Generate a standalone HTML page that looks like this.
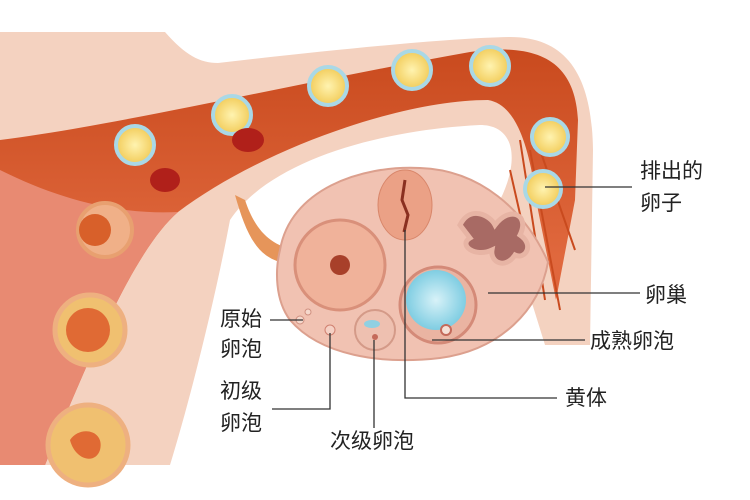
<!DOCTYPE html>
<html><head><meta charset="utf-8"><style>
html,body{margin:0;padding:0;background:#fff;}
svg{display:block}
text{font-family:"Liberation Sans","Noto Sans CJK SC",sans-serif;font-size:21px;fill:#222}
</style></head><body>
<svg width="750" height="500" viewBox="0 0 750 500" xmlns="http://www.w3.org/2000/svg">
<defs>
<linearGradient id="tube" x1="0" y1="0" x2="0" y2="1">
<stop offset="0" stop-color="#c94a1e"/><stop offset="0.5" stop-color="#e0683d"/><stop offset="1" stop-color="#d9593a"/>
</linearGradient>
<radialGradient id="egg"><stop offset="0" stop-color="#fff3b0"/><stop offset="1" stop-color="#f2cc5a"/></radialGradient>
<radialGradient id="blue"><stop offset="0" stop-color="#d8f2f8"/><stop offset="1" stop-color="#7fcde2"/></radialGradient>
</defs>
<!-- beige body -->
<path d="M0,32 L165,32 C185,55 200,63 218,63 C330,50 450,38 510,37 C570,37 592,80 593,150 L590,345 L545,345 L500,200 C520,160 515,125 480,125 C380,130 270,160 230,220 C215,300 190,400 170,465 L0,465 Z" fill="#f4d2c0"/>
<!-- uterus + tube -->
<path d="M0,140 C120,125 300,82 470,52 C540,42 575,62 578,120 L575,200 L556,300 L538,210 C530,150 518,105 488,100 C400,100 260,150 178,212 C140,245 100,330 45,465 L0,465 Z" fill="url(#tube)"/>
<path d="M0,170 C60,200 120,215 178,212 C140,245 100,330 45,465 L0,465 Z" fill="#e88a72"/>
<!-- fimbriae lines -->
<g stroke="#c94a1e" stroke-width="2" fill="none">
<path d="M520,140 L545,300"/><path d="M530,150 L560,310"/><path d="M540,150 L575,250"/><path d="M510,170 L535,280"/>
</g>
<!-- ovary ligament -->
<path d="M235,195 C245,230 255,255 280,262 L300,270 L295,250 C270,245 255,230 245,200 Z" fill="#e6955a"/>
<!-- ovary -->
<path d="M280,250 C290,190 360,165 420,168 C480,170 525,210 548,262 C540,310 500,350 440,358 C380,365 320,355 290,320 C275,300 275,270 280,250 Z" fill="#f1c2b2" stroke="#dca08e" stroke-width="2"/>
<!-- corpus luteum -->
<ellipse cx="405" cy="205" rx="27" ry="35" fill="#eba186" stroke="#d8866a"/>
<path d="M405,180 L402,200 L408,215 L404,232" stroke="#8a3020" stroke-width="3" fill="none"/>
<!-- dominant follicle -->
<circle cx="340" cy="265" r="45" fill="#f0b29a" stroke="#d9907a" stroke-width="3"/>
<circle cx="340" cy="265" r="10" fill="#a8402a"/>
<!-- mushroom -->
<path d="M460,225 C470,205 490,215 495,225 C510,205 530,215 520,235 C535,245 525,260 515,255 C505,270 490,262 492,250 C475,258 458,245 470,238 Z" fill="#a86a64" stroke="#e7b4a4" stroke-width="5"/>
<!-- mature follicle -->
<circle cx="438" cy="305" r="38" fill="#eab4a2" stroke="#d48a78" stroke-width="3"/>
<circle cx="436" cy="300" r="30" fill="url(#blue)"/>
<circle cx="446" cy="330" r="5" fill="#f6e0d6" stroke="#c46a5a" stroke-width="2"/>
<!-- secondary -->
<circle cx="375" cy="330" r="20" fill="#eec0b0" stroke="#d49a88" stroke-width="2"/>
<ellipse cx="372" cy="324" rx="8" ry="4" fill="#8fd0e2"/>
<circle cx="375" cy="337" r="3" fill="#c46a5a"/>
<!-- primordial / primary -->
<circle cx="300" cy="320" r="4" fill="#f5d8cc" stroke="#d09080"/>
<circle cx="308" cy="312" r="3" fill="#f5d8cc" stroke="#d09080"/>
<circle cx="330" cy="330" r="5" fill="#f5d0c4" stroke="#d08070"/>
<!-- uterus follicles -->
<circle cx="105" cy="230" r="27" fill="#f0b088" stroke="#e8a070" stroke-width="4"/>
<circle cx="95" cy="230" r="16" fill="#d8602a"/>
<circle cx="90" cy="330" r="35" fill="#f0c070" stroke="#eeb080" stroke-width="5"/>
<circle cx="88" cy="330" r="22" fill="#e06a34"/>
<circle cx="88" cy="445" r="40" fill="#f0c070" stroke="#eeb080" stroke-width="5"/>
<path d="M70,440 C80,425 105,430 100,450 C95,465 75,460 70,440 Z" fill="#e06a34"/>
<!-- eggs -->
<g stroke="#a9d8e6" stroke-width="4">
<circle cx="135" cy="145" r="19" fill="url(#egg)"/>
<circle cx="232" cy="115" r="19" fill="url(#egg)"/>
<circle cx="328" cy="86" r="19" fill="url(#egg)"/>
<circle cx="412" cy="70" r="19" fill="url(#egg)"/>
<circle cx="490" cy="66" r="19" fill="url(#egg)"/>
<circle cx="550" cy="137" r="18" fill="url(#egg)"/>
<circle cx="543" cy="189" r="18" fill="url(#egg)"/>
</g>
<ellipse cx="165" cy="180" rx="15" ry="12" fill="#b0201a"/>
<ellipse cx="248" cy="140" rx="16" ry="12" fill="#b0201a"/>
<!-- leader lines -->
<g stroke="#333" stroke-width="1.3" fill="none">
<path d="M545,187 H632"/>
<path d="M488,293 H640"/>
<path d="M432,340 H585"/>
<path d="M405,230 V398 H557"/>
<path d="M374,340 V428"/>
<path d="M330,333 V409 H272"/>
<path d="M303,320 H270"/>
</g>
<text x="640" y="178">排出的</text>
<text x="640" y="210">卵子</text>
<text x="645" y="302">卵巢</text>
<text x="590" y="348">成熟卵泡</text>
<text x="565" y="405">黄体</text>
<text x="330" y="448">次级卵泡</text>
<text x="220" y="326">原始</text>
<text x="220" y="356">卵泡</text>
<text x="220" y="398">初级</text>
<text x="220" y="430">卵泡</text>
</svg>
</body></html>
